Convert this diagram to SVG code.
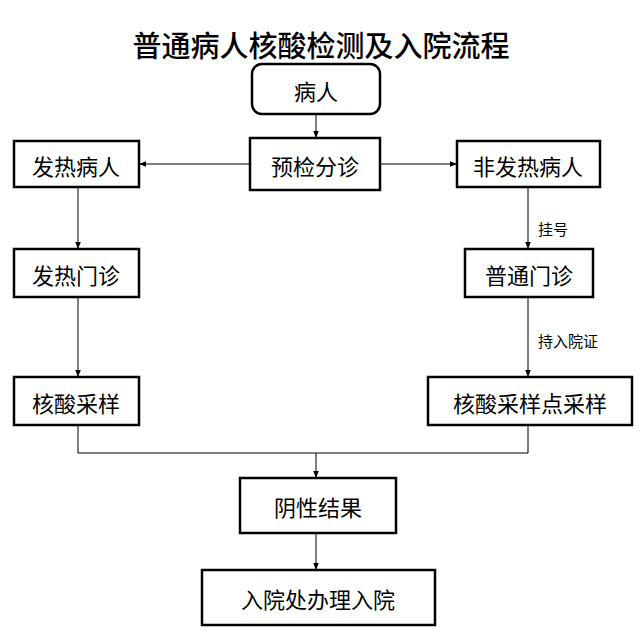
<svg xmlns="http://www.w3.org/2000/svg" width="643" height="642" viewBox="0 0 643 642">
<style>
.b{fill:#fff;stroke:#000;stroke-width:2.5}
.t{font-family:"Noto Sans CJK SC",sans-serif;font-size:22px;text-anchor:middle;dominant-baseline:central}
.s{font-family:"Noto Sans CJK SC",sans-serif;font-size:15px;dominant-baseline:central}
.c{fill:none;stroke:#000;stroke-width:1}
</style>
<defs><marker id="a" viewBox="0 0 10 10" refX="10" refY="5" markerWidth="7" markerHeight="7" orient="auto" markerUnits="userSpaceOnUse"><path d="M0,1 L10,5 L0,9 z" fill="#000"/></marker></defs>
<rect width="643" height="642" fill="#fff"/>
<text x="321" y="44" class="t" style="font-size:29px;font-weight:500">普通病人核酸检测及入院流程</text>
<g id="connectors">
<path class="c" d="M316,114 V138" marker-end="url(#a)"/>
<path class="c" d="M250,164 H139" marker-end="url(#a)"/>
<path class="c" d="M380,164 H457" marker-end="url(#a)"/>
<path class="c" d="M78,187 V249" marker-end="url(#a)"/>
<path class="c" d="M528,187 V249" marker-end="url(#a)"/>
<path class="c" d="M78,297 V377" marker-end="url(#a)"/>
<path class="c" d="M528,297 V377" marker-end="url(#a)"/>
<path class="c" d="M78,425 V453 H528 V425"/>
<path class="c" d="M316,453 V478" marker-end="url(#a)"/>
<path class="c" d="M316,533 V570" marker-end="url(#a)"/>
<text x="538" y="228" class="s">挂号</text>
<text x="538" y="340" class="s">持入院证</text>
</g>
<g id="n1"><rect class="b" x="252" y="64" width="128" height="50" rx="10"/><text x="316" y="90" class="t">病人</text></g>
<g id="n2"><rect class="b" x="250" y="138" width="130" height="52"/><text x="315" y="165" class="t">预检分诊</text></g>
<g id="n3"><rect class="b" x="14" y="141" width="125" height="46"/><text x="76" y="165" class="t">发热病人</text></g>
<g id="n4"><rect class="b" x="457" y="141" width="143" height="46"/><text x="528" y="165" class="t">非发热病人</text></g>
<g id="n5"><rect class="b" x="14" y="249" width="125" height="48"/><text x="76" y="274" class="t">发热门诊</text></g>
<g id="n6"><rect class="b" x="465" y="249" width="128" height="48"/><text x="529" y="274" class="t">普通门诊</text></g>
<g id="n7"><rect class="b" x="14" y="377" width="125" height="48"/><text x="76" y="402" class="t">核酸采样</text></g>
<g id="n8"><rect class="b" x="428" y="377" width="204" height="48"/><text x="530" y="402" class="t">核酸采样点采样</text></g>
<g id="n9"><rect class="b" x="240" y="478" width="156" height="55"/><text x="318" y="506" class="t">阴性结果</text></g>
<g id="n10"><rect class="b" x="202" y="570" width="233" height="55"/><text x="318" y="598" class="t">入院处办理入院</text></g>
</svg>
